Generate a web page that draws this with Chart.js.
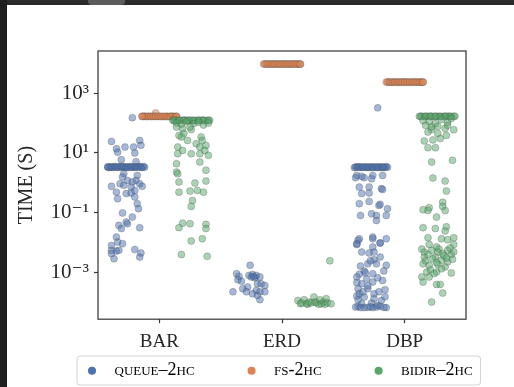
<!DOCTYPE html>
<html>
<head>
<meta charset="utf-8">
<script src="https://cdn.jsdelivr.net/npm/chart.js@4.4.1/dist/chart.umd.min.js"></script>
<style>
  html, body { margin: 0; padding: 0; background: #2b2b2b; overflow: hidden; }
  body { width: 514px; height: 387px; position: relative; }
  #leftStrip { position: absolute; left: 0; top: 0; width: 7px; height: 387px; background: #1f1f1f; }
  #tab { position: absolute; left: 88px; top: 0; width: 37px; height: 5px; background: #5c5c5c; border-radius: 0 0 4px 4px; }
  #wrap { position: absolute; left: 7px; top: 5px; width: 507px; height: 382px; background: #fff; }
</style>
</head>
<body>
<div id="leftStrip"></div>
<div id="tab"></div>
<div id="wrap"><canvas id="chart"></canvas></div>
<script>
// categories and series
const categories = ['BAR', 'ERD', 'DBP'];
const seriesNames = ['queue–2hc', 'fs-2hc', 'bidir–2hc'];
const seriesColors = ['#4c72b0', '#dd8452', '#55a868'];
const seriesFills = ['rgba(76,114,176,0.5)', 'rgba(221,132,82,0.5)', 'rgba(85,168,104,0.5)'];

// y axis (seconds, log)
const yTickValues = [1e-3, 1e-1, 1e1, 1e3];
const yTickLabels = ['10⁻³', '10⁻¹', '10¹', '10³'];
const yMin = 2.66e-5;
const yMax = 2.57e4;

// points: [offset from category centre, time in s]
const queueBar = [
  [-0.42, 3.3], [-0.40, 3.4], [-0.38, 3.2], [-0.36, 3.4], [-0.34, 3.3], [-0.32, 3.5], [-0.30, 3.2], [-0.28, 3.4],
  [-0.26, 3.3], [-0.24, 3.5], [-0.22, 3.2], [-0.20, 3.4], [-0.18, 3.3], [-0.16, 3.5], [-0.14, 3.2], [-0.12, 3.3],
  [-0.41, 3.2], [-0.37, 3.5], [-0.33, 3.3], [-0.29, 3.4], [-0.25, 3.2], [-0.21, 3.3], [-0.17, 3.4], [-0.13, 3.5],
  [-0.42, 3.4], [-0.39, 3.3], [-0.35, 3.3], [-0.31, 3.4], [-0.27, 3.3], [-0.23, 3.4], [-0.19, 3.3], [-0.15, 3.3],
  [-0.22, 150], [-0.39, 24], [-0.35, 13.7], [-0.28, 15.5], [-0.21, 15.5], [-0.16, 26], [-0.15, 17.8], [-0.20, 9.8],
  [-0.34, 10.5], [-0.31, 5.9], [-0.19, 5.0], [-0.29, 2.0], [-0.30, 1.54], [-0.26, 1.19], [-0.18, 1.75], [-0.19, 1.19],
  [-0.39, 0.75], [-0.32, 0.92], [-0.29, 0.81], [-0.22, 1.05], [-0.23, 0.71], [-0.16, 0.92], [-0.14, 0.75], [-0.35, 0.48],
  [-0.34, 0.29], [-0.27, 0.43], [-0.23, 0.45], [-0.20, 0.33], [-0.20, 0.55], [-0.18, 0.197], [-0.17, 0.134], [-0.30, 0.096],
  [-0.22, 0.070], [-0.27, 0.048], [-0.26, 0.042], [-0.33, 0.037], [-0.31, 0.029], [-0.16, 0.031], [-0.35, 0.015], [-0.34, 0.0102],
  [-0.30, 0.0090], [-0.39, 0.0079], [-0.39, 0.0054], [-0.35, 0.0051], [-0.33, 0.0054], [-0.20, 0.0057], [-0.15, 0.0044], [-0.37, 0.0028],
  [-0.39, 0.0042], [-0.16, 0.0032]
];
const queueErd = [
  [-0.26, 1.7e-3], [-0.37, 8.9e-4], [-0.35, 7.2e-4], [-0.36, 5.6e-4], [-0.33, 5.0e-4], [-0.27, 7.8e-4], [-0.24, 8.4e-4],
  [-0.21, 7.8e-4], [-0.18, 6.9e-4], [-0.22, 6.5e-4], [-0.25, 6.9e-4], [-0.23, 7.0e-4], [-0.20, 4.1e-4], [-0.17, 4.1e-4],
  [-0.14, 3.6e-4], [-0.28, 3.2e-4], [-0.32, 2.8e-4], [-0.29, 2.2e-4], [-0.40, 2.2e-4], [-0.21, 2.45e-4], [-0.18, 2.2e-4],
  [-0.14, 2.2e-4], [-0.24, 1.9e-4], [-0.20, 1.67e-4], [-0.18, 1.2e-4]
];
const queueDbp = [
  [-0.41, 3.2], [-0.39, 3.4], [-0.37, 3.3], [-0.35, 3.2], [-0.33, 3.4], [-0.31, 3.3], [-0.29, 3.2], [-0.27, 3.4],
  [-0.25, 3.3], [-0.23, 3.2], [-0.21, 3.4], [-0.19, 3.3], [-0.17, 3.2], [-0.15, 3.4], [-0.14, 3.3],
  [-0.40, 3.3], [-0.36, 3.4], [-0.32, 3.2], [-0.28, 3.3], [-0.24, 3.4], [-0.20, 3.2], [-0.16, 3.3],
  [-0.38, 3.3], [-0.34, 3.3], [-0.30, 3.4], [-0.26, 3.2], [-0.22, 3.3], [-0.18, 3.4],
  [-0.22, 320], [-0.39, 1.75], [-0.35, 1.62], [-0.26, 1.75], [-0.18, 1.75], [-0.33, 1.46], [-0.27, 1.35], [-0.40, 1.46],
  [-0.37, 0.71], [-0.29, 0.71], [-0.19, 0.63], [-0.18, 0.59], [-0.35, 0.43], [-0.29, 0.45], [-0.29, 0.235], [-0.21, 0.173],
  [-0.37, 0.197], [-0.20, 0.187], [-0.14, 0.134], [-0.27, 0.091], [-0.23, 0.080], [-0.15, 0.080], [-0.36, 0.080], [-0.23, 0.054],
  [-0.37, 0.0132], [-0.26, 0.015], [-0.15, 0.0132], [-0.39, 0.0085], [-0.20, 0.0095],
  [-0.38, 0.0116], [-0.26, 0.0132], [-0.20, 0.0095], [-0.39, 0.0090], [-0.35, 0.0047], [-0.29, 0.0044], [-0.25, 0.0047],
  [-0.26, 0.0070], [-0.25, 0.0026], [-0.23, 0.0019], [-0.15, 0.0017], [-0.30, 0.0019], [-0.33, 0.00109], [-0.37, 8.5e-4],
  [-0.26, 8.9e-4], [-0.39, 6.9e-4], [-0.31, 6.0e-4], [-0.18, 5.3e-4], [-0.35, 4.1e-4], [-0.26, 4.7e-4], [-0.38, 2.8e-4],
  [-0.30, 2.8e-4], [-0.16, 2.6e-4], [-0.37, 1.9e-4], [-0.25, 1.9e-4], [-0.33, 1.47e-4], [-0.38, 1.2e-4], [-0.19, 1.13e-4],
  [-0.35, 8.8e-5], [-0.27, 9.2e-5], [-0.22, 7.7e-5], [-0.33, 6.5e-5], [-0.15, 6.5e-5], [-0.38, 7.1e-5], [-0.26, 6.5e-5],
  [-0.40, 6.8e-5], [-0.36, 6.5e-5], [-0.30, 6.6e-5], [-0.28, 7.0e-5], [-0.23, 6.8e-5], [-0.20, 7.2e-5], [-0.17, 6.6e-5],
  [-0.39, 1.6e-4], [-0.34, 2.2e-4], [-0.30, 3.5e-4], [-0.25, 1.3e-4], [-0.21, 2.2e-4], [-0.16, 1.5e-4], [-0.39, 4.5e-4],
  [-0.32, 9.5e-4], [-0.22, 6.5e-4], [-0.17, 1.1e-3], [-0.28, 2.4e-3], [-0.36, 1.6e-3], [-0.20, 3.2e-3]
];
const fsBar = [
  [-0.14, 165], [-0.12, 168], [-0.10, 163], [-0.08, 166], [-0.06, 165], [-0.04, 168], [-0.02, 164], [0.00, 166],
  [0.02, 165], [0.04, 163], [0.06, 167], [0.08, 165], [0.10, 166], [0.12, 164], [0.14, 166], [-0.03, 215],
  [-0.13, 166], [-0.11, 165], [-0.09, 167], [-0.07, 164], [-0.05, 166], [-0.03, 165], [-0.01, 167], [0.01, 164],
  [0.03, 166], [0.05, 165], [0.07, 164], [0.09, 166], [0.11, 167], [0.13, 165], [0.14, 164], [-0.14, 166]
];
const fsErd = [
  [-0.15, 9400], [-0.13, 9500], [-0.11, 9300], [-0.09, 9400], [-0.07, 9500], [-0.05, 9400], [-0.03, 9300], [-0.01, 9400],
  [0.01, 9500], [0.03, 9400], [0.05, 9300], [0.07, 9400], [0.09, 9500], [0.11, 9400], [0.13, 9300], [0.15, 9400],
  [-0.14, 9400], [-0.12, 9400], [-0.10, 9500], [-0.08, 9300], [-0.06, 9400], [-0.04, 9500], [-0.02, 9400], [0.00, 9300],
  [0.02, 9400], [0.04, 9500], [0.06, 9400], [0.08, 9300], [0.10, 9400], [0.12, 9500], [0.14, 9400], [0.15, 9300]
];
const fsDbp = [
  [-0.15, 2330], [-0.13, 2350], [-0.11, 2300], [-0.09, 2330], [-0.07, 2360], [-0.05, 2320], [-0.03, 2330], [-0.01, 2340],
  [0.01, 2330], [0.03, 2310], [0.05, 2340], [0.07, 2330], [0.09, 2350], [0.11, 2320], [0.13, 2330], [0.15, 2340],
  [-0.14, 2330], [-0.12, 2320], [-0.10, 2340], [-0.08, 2330], [-0.06, 2310], [-0.04, 2340], [-0.02, 2330], [0.00, 2350],
  [0.02, 2330], [0.04, 2320], [0.06, 2330], [0.08, 2340], [0.10, 2330], [0.12, 2310], [0.14, 2330], [0.15, 2320]
];
const bidirBar = [
  [0.11, 122], [0.13, 124], [0.15, 120], [0.17, 123], [0.19, 122], [0.21, 125], [0.23, 121], [0.25, 122],
  [0.27, 124], [0.29, 120], [0.31, 123], [0.33, 122], [0.35, 125], [0.37, 121], [0.39, 122], [0.41, 123],
  [0.12, 121], [0.16, 124], [0.20, 122], [0.24, 123], [0.28, 121], [0.32, 124], [0.36, 122], [0.40, 121],
  [0.14, 100], [0.18, 90], [0.22, 110], [0.28, 95], [0.32, 105], [0.36, 85], [0.40, 100], [0.26, 60],
  [0.14, 73], [0.19, 64], [0.25, 73], [0.16, 38], [0.20, 44], [0.23, 26], [0.18, 34], [0.34, 34],
  [0.35, 26], [0.30, 20], [0.38, 17.7], [0.33, 15.6], [0.37, 12], [0.15, 15.6], [0.19, 12], [0.15, 9.3],
  [0.26, 9.3], [0.33, 9.3], [0.40, 8.2], [0.33, 4.9], [0.14, 4.3], [0.14, 2.26], [0.38, 2.6], [0.15, 2.0],
  [0.16, 1.05], [0.29, 0.97], [0.38, 1.13], [0.16, 0.48], [0.25, 0.52], [0.31, 0.55], [0.36, 0.48], [0.27, 0.25],
  [0.26, 0.16], [0.19, 0.044], [0.25, 0.042], [0.16, 0.031], [0.38, 0.040], [0.38, 0.029], [0.35, 0.0132], [0.26, 0.0110],
  [0.18, 0.0039], [0.39, 0.0034]
];
const bidirErd = [
  [0.13, 1.13e-4], [0.15, 8.8e-5], [0.16, 9.4e-5], [0.18, 1.19e-4], [0.20, 8.8e-5], [0.21, 8.4e-5], [0.22, 1.0e-4],
  [0.24, 9.4e-5], [0.26, 1.47e-4], [0.27, 1.0e-4], [0.28, 9.4e-5], [0.30, 8.4e-5], [0.31, 1.19e-4], [0.32, 8.8e-5],
  [0.34, 1.0e-4], [0.35, 8.4e-5], [0.36, 1.3e-4], [0.37, 9.4e-5], [0.40, 8.8e-5], [0.39, 2.4e-3]
];
const bidirDbp = [
  [0.12, 166], [0.14, 168], [0.16, 164], [0.18, 167], [0.20, 166], [0.22, 169], [0.24, 165], [0.26, 166],
  [0.28, 168], [0.30, 164], [0.32, 167], [0.34, 166], [0.36, 169], [0.38, 165], [0.40, 166], [0.41, 167],
  [0.13, 165], [0.17, 168], [0.21, 166], [0.25, 167], [0.29, 165], [0.33, 168], [0.37, 166],
  [0.15, 120], [0.20, 110], [0.25, 95], [0.30, 130], [0.35, 105], [0.38, 140], [0.22, 60], [0.33, 65],
  [0.17, 83], [0.22, 73], [0.27, 77], [0.35, 83], [0.19, 50], [0.27, 44], [0.34, 38], [0.40, 59],
  [0.16, 25], [0.23, 27], [0.29, 30], [0.19, 14.8], [0.25, 14.8], [0.22, 4.9], [0.39, 5.6], [0.23, 1.43],
  [0.33, 1.13], [0.34, 0.52], [0.31, 0.22], [0.31, 0.16], [0.15, 0.124], [0.20, 0.145], [0.19, 0.117], [0.26, 0.070],
  [0.33, 0.117], [0.15, 0.031], [0.25, 0.029], [0.34, 0.033], [0.33, 0.024], [0.19, 0.0143], [0.30, 0.0132], [0.35, 0.0122],
  [0.40, 0.0143], [0.20, 0.0085], [0.26, 0.0070], [0.40, 0.0085], [0.16, 0.0047], [0.22, 0.0054], [0.27, 0.0047], [0.35, 0.0054],
  [0.16, 0.0032], [0.25, 0.0032], [0.38, 0.0039], [0.15, 0.0019], [0.30, 0.0025], [0.35, 0.0022], [0.20, 0.0017], [0.27, 0.0018],
  [0.33, 0.00149], [0.18, 0.00101], [0.26, 0.00101], [0.38, 9.4e-4], [0.14, 6.9e-4], [0.20, 6.9e-4], [0.15, 4.7e-4], [0.26, 3.9e-4],
  [0.29, 3.9e-4], [0.31, 2.0e-4], [0.22, 1.0e-4],
  [0.14, 0.0060], [0.19, 0.0040], [0.23, 0.0028], [0.28, 0.0060], [0.31, 0.0042], [0.34, 0.0030], [0.37, 0.0065], [0.40, 0.0048],
  [0.17, 0.0024], [0.26, 0.0021], [0.32, 0.0036], [0.39, 0.0027], [0.21, 0.0012], [0.30, 0.0013], [0.24, 0.0009]
];

const serif = "'Liberation Serif', 'DejaVu Serif', serif";
const ink = '#262626';

function makeSet(k, groups) {
  return {
    label: seriesNames[k],
    data: groups.flatMap((g, ci) => g.map(([j, v]) => ({ x: ci + j, y: v }))),
    backgroundColor: seriesFills[k],
    borderColor: 'rgba(70,70,70,0.45)',
    borderWidth: 0.6,
    pointRadius: 3.5,
    order: 2 - k   // later hue drawn on top, like matplotlib
  };
}

// puts the legend row where it sits in the figure and draws its frame
const legendRowLeft = 76;   // canvas px, left edge of first marker box
const legendRowTop = 356.7;
const legendPlacer = {
  id: 'legendPlacer',
  afterLayout(chart) {
    const lg = chart.legend;
    const pad = lg.options.labels.padding;
    const startX = (lg.left + pad + lg.right - lg.lineWidths[0]) / 2;
    const dx = legendRowLeft - startX;
    lg.left += dx; lg.right += dx;
    lg.top = legendRowTop - pad;
    lg.bottom = legendRowTop + 25;
  },
  beforeDraw(chart) {
    const boxes = chart.legend.legendHitBoxes;
    if (!boxes || !boxes.length) return;
    const first = boxes[0], last = boxes[boxes.length - 1];
    const ctx = chart.ctx;
    ctx.save();
    ctx.beginPath();
    ctx.roundRect(first.left - 6, first.top - 5.7, last.left + last.width + 8 - (first.left - 6), 29, 3);
    ctx.fillStyle = '#ffffff';
    ctx.fill();
    ctx.strokeStyle = '#d4d4d4';
    ctx.lineWidth = 1;
    ctx.stroke();
    ctx.restore();
  }
};

const plotFrame = {
  id: 'plotFrame',
  afterDatasetsDraw(chart) {
    const { ctx, chartArea: a } = chart;
    ctx.save();
    ctx.strokeStyle = '#3a3a3a';
    ctx.lineWidth = 1.25;
    ctx.strokeRect(a.left, a.top, a.right - a.left, a.bottom - a.top);
    ctx.restore();
  }
};

new Chart(document.getElementById('chart'), {
  type: 'scatter',
  data: {
    datasets: [
      makeSet(0, [queueBar, queueErd, queueDbp]),
      makeSet(1, [fsBar, fsErd, fsDbp]),
      makeSet(2, [bidirBar, bidirErd, bidirDbp])
    ]
  },
  options: {
    responsive: true,
    maintainAspectRatio: false,
    animation: false,
    events: [],
    layout: { padding: { top: 46, right: 0, left: 0, bottom: 0 } },
    scales: {
      x: {
        type: 'linear',
        min: -0.5,
        max: 2.5,
        bounds: 'data',
        afterBuildTicks: axis => { axis.ticks = categories.map((c, i) => ({ value: i })); },
        ticks: { callback: v => categories[v], font: { family: serif, size: 19 }, color: ink, padding: 7, maxRotation: 0 },
        grid: { drawOnChartArea: false, tickLength: 4, tickWidth: 1.2, tickColor: '#3a3a3a' },
        border: { display: false }
      },
      y: {
        type: 'logarithmic',
        min: yMin,
        max: yMax,
        bounds: 'data',
        afterBuildTicks: axis => { axis.ticks = yTickValues.map(v => ({ value: v })); },
        afterFit: axis => { axis.width = 91; },
        ticks: { callback: (v, i) => yTickLabels[i], font: { family: serif, size: 21 }, color: ink, padding: 5, autoSkip: false },
        grid: { drawOnChartArea: false, tickLength: 4, tickWidth: 1.2, tickColor: '#3a3a3a' },
        border: { display: false },
        title: { display: true, text: 'TIME (S)', font: { family: serif, size: 20 }, color: ink, padding: { top: 8, bottom: 0 } }
      },
      // empty right-hand margin of the figure
      margin: {
        position: 'right',
        type: 'linear',
        grid: { display: false },
        ticks: { display: false },
        border: { display: false },
        afterFit: axis => { axis.width = 48; }
      }
    },
    plugins: {
      tooltip: { enabled: false },
      legend: {
        position: 'bottom',
        maxHeight: 27,
        labels: {
          usePointStyle: true,
          boxWidth: 18,
          boxHeight: 5.7,
          padding: 48,
          color: ink,
          font: { family: serif, size: 18, weight: 'small-caps', lineHeight: 1 },
          generateLabels: chart => chart.data.datasets.map((ds, i) => ({
            text: ' ' + ds.label,
            fillStyle: seriesColors[i],
            strokeStyle: seriesColors[i],
            lineWidth: 0,
            pointStyle: 'circle',
            hidden: false,
            datasetIndex: i
          }))
        }
      }
    }
  },
  plugins: [legendPlacer, plotFrame]
});
</script>
</body>
</html>
